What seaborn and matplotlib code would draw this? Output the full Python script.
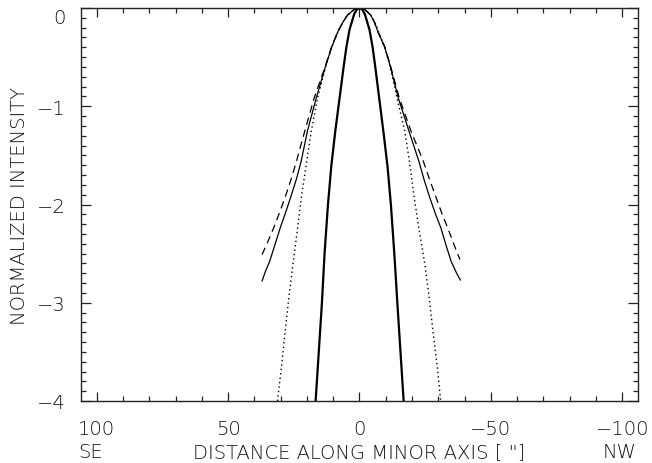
import matplotlib
matplotlib.use("Agg")
import matplotlib.pyplot as plt
import seaborn as sns
from matplotlib.ticker import MultipleLocator, FixedLocator

# Normalized (log) intensity profiles along the minor axis
psf_x = [16.7, 15.5, 14.3, 13.3, 12.0, 10.7, 9.2, 7.6, 6.0, 5.0, 3.8, 2.0, 1.0, 0.0,
         -1.0, -2.0, -3.8, -5.0, -6.0, -7.6, -9.2, -10.7, -12.0, -13.3, -14.4, -15.6, -16.8]
psf_y = [-4.0, -3.5, -3.0, -2.5, -2.0, -1.6, -1.25, -0.92, -0.59, -0.4, -0.22, -0.06, -0.015, 0.0,
         -0.015, -0.06, -0.22, -0.4, -0.6, -0.94, -1.28, -1.62, -2.02, -2.52, -3.0, -3.5, -4.0]

dot_x = [31.2, 30.8, 29.6, 28.3, 26.9, 25.4, 23.7, 22.2, 20.1, 18.4, 16.0, 12.9, 10.6, 8.2, 6.3, 4.5, 2.0, 0.0,
         -2.0, -4.2, -5.8, -7.2, -9.6, -11.6, -14.3, -17.2, -19.0, -20.7, -22.6, -24.7, -26.4, -28.0, -29.6, -30.9]
dot_y = [-4.0, -3.9, -3.63, -3.29, -2.95, -2.62, -2.27, -1.94, -1.56, -1.26, -0.92, -0.6, -0.4, -0.24, -0.14, -0.07, -0.015, 0.0,
         -0.015, -0.07, -0.14, -0.24, -0.4, -0.59, -0.92, -1.25, -1.56, -1.91, -2.24, -2.58, -2.92, -3.3, -3.65, -4.0]

sol_x = [37.1, 35.8, 34.2, 32.2, 30.2, 28.1, 26.0, 24.0, 22.2, 19.8, 16.5, 12.9, 10.6, 8.2, 6.2, 4.5, 2.0, 0.0,
         -2.0, -4.2, -5.6, -7.0, -9.6, -11.7, -14.8, -18.8, -22.6, -24.5, -26.5, -28.7, -31.0, -33.0, -34.9, -36.8, -38.4]
sol_y = [-2.78, -2.68, -2.58, -2.41, -2.24, -2.08, -1.91, -1.74, -1.56, -1.25, -0.92, -0.59, -0.4, -0.24, -0.14, -0.07, -0.015, 0.0,
         -0.015, -0.07, -0.14, -0.24, -0.4, -0.59, -0.92, -1.25, -1.56, -1.74, -1.91, -2.08, -2.24, -2.42, -2.58, -2.69, -2.77]

dash_x = [37.1, 34.9, 32.7, 30.4, 28.1, 26.0, 24.0, 20.9, 17.3, 13.0, 10.7, 8.3, 6.2, 4.5, 2.0, 0.0,
          -2.0, -4.2, -5.6, -7.0, -9.7, -11.8, -15.2, -19.7, -24.3, -26.6, -28.9, -31.2, -33.6, -36.0, -38.2]
dash_y = [-2.51, -2.38, -2.24, -2.08, -1.91, -1.74, -1.56, -1.26, -0.92, -0.59, -0.4, -0.24, -0.14, -0.07, -0.015, 0.0,
          -0.015, -0.07, -0.14, -0.24, -0.4, -0.59, -0.92, -1.26, -1.56, -1.74, -1.91, -2.08, -2.24, -2.41, -2.56]

x_major = [100, 50, 0, -50, -100]
y_major = [0, -1, -2, -3, -4]

sns.set_theme(style="ticks")
plt.rcParams["font.family"] = ["DejaVu Sans"]
plt.rcParams["font.weight"] = "light"
plt.rcParams["axes.labelweight"] = "light"
plt.rcParams["axes.unicode_minus"] = True

text_color = "#111111"
fs = 14

fig = plt.figure(figsize=(6.52, 4.64), dpi=100)
ax = fig.add_axes([81 / 652, 1 - 402 / 464, (638 - 81) / 652, (402 - 9) / 464])

k = dict(ax=ax, sort=False, estimator=None, color="black", legend=False)
sns.lineplot(x=psf_x, y=psf_y, lw=1.6, **k)
sns.lineplot(x=sol_x, y=sol_y, lw=0.9, **k)
l_dash = sns.lineplot(x=dash_x, y=dash_y, lw=0.9, **k).lines[-1]
l_dash.set_dashes((6, 4))
l_dot = sns.lineplot(x=dot_x, y=dot_y, lw=1.0, **k).lines[-1]
l_dot.set_dashes((1, 2.2))

ax.set_xlim(106, -106)
ax.set_ylim(-4, 0)

ax.xaxis.set_major_locator(FixedLocator(x_major))
ax.xaxis.set_minor_locator(MultipleLocator(10))
ax.yaxis.set_major_locator(FixedLocator(y_major))
ax.yaxis.set_minor_locator(MultipleLocator(0.1))

tick_color = "#222222"
ax.tick_params(axis="both", which="both", direction="in", top=True, right=True,
               color=tick_color, width=0.9, labelsize=fs, labelcolor=text_color)
ax.tick_params(axis="x", which="major", length=6.5, pad=13)
ax.tick_params(axis="x", which="minor", length=3.6)
ax.tick_params(axis="y", which="major", length=7.5, pad=11)
ax.tick_params(axis="y", which="minor", length=3.6)

for s in ax.spines.values():
    s.set_color(tick_color)
    s.set_linewidth(1.0)

# the top label sits just below the upper frame edge
fig.canvas.draw()
ax.get_yticklabels()[0].set_va("top")

ax.set_xlabel('DISTANCE ALONG MINOR AXIS [ "]', fontsize=fs, color=text_color, va="center")
ax.xaxis.set_label_coords(0.5, -(453 - 402) / 393)
ax.set_ylabel("NORMALIZED INTENSITY", fontsize=fs, color=text_color, va="center")
ax.yaxis.set_label_coords(-(81 - 19) / 557, 0.5)

trans = ax.get_xaxis_transform()
ax.text(102.3, -(453 - 402) / 393, "SE", transform=trans, ha="center", va="center",
        fontsize=fs, color=text_color)
ax.text(-98.9, -(453 - 402) / 393, "NW", transform=trans, ha="center", va="center",
        fontsize=fs, color=text_color)

fig.savefig("out.png", dpi=100)
